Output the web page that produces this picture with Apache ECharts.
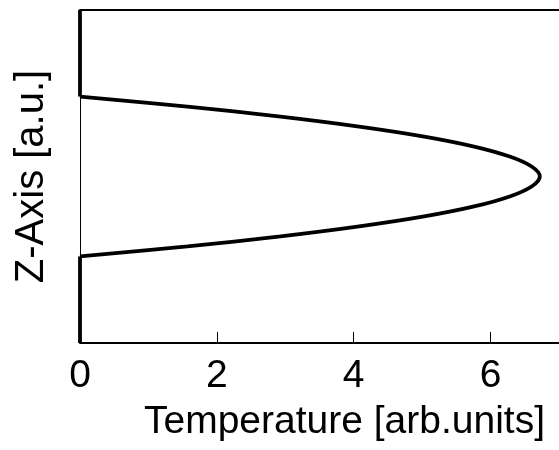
<!DOCTYPE html>
<html>
<head>
<meta charset="utf-8">
<script src="https://cdn.jsdelivr.net/npm/echarts@6/dist/echarts.min.js"></script>
<style>
  html, body { margin: 0; padding: 0; background: #fff; }
  #chart { width: 559px; height: 450px; }
</style>
</head>
<body>
<div id="chart"></div>
<script>
// Temperature profile along the z axis (z normalised to 0..1)
const zProfile = [0.26, 0.29, 0.32, 0.35, 0.38, 0.41, 0.44, 0.47, 0.50, 0.53, 0.56, 0.59, 0.62, 0.65, 0.68, 0.71, 0.74];
const temperature = [0, 1.57, 2.93, 4.08, 5.03, 5.76, 6.28, 6.60, 6.72, 6.60, 6.28, 5.76, 5.03, 4.08, 2.93, 1.57, 0];
// Cold regions below and above the heated zone
const zBelow = [0, 0.26];
const zAbove = [0.74, 1];
const tCold = [0, 0];
const xTicks = { min: 0, max: 7, step: 2 };

const FONT = 'Liberation Sans, Arial, sans-serif';
const pairs = (xs, zs) => xs.map((x, i) => [x, zs[i]]);
const lineStyle = { color: '#000', width: 3.8 };

const chart = echarts.init(document.getElementById('chart'), null, { renderer: 'canvas' });
chart.setOption({
  backgroundColor: '#fff',
  animation: false,
  grid: { left: 80, top: 10, width: 485, height: 333 },
  xAxis: [{
    type: 'value',
    min: xTicks.min,
    max: xTicks.max,
    interval: xTicks.step,
    name: 'Temperature [arb.units]',
    nameLocation: 'middle',
    nameGap: 60,
    nameTextStyle: { color: '#000', fontSize: 39, fontFamily: FONT, padding: [0, 0, 0, 50] },
    axisLine: { show: true, lineStyle: { color: '#000', width: 2 } },
    axisTick: { show: true, inside: true, length: 11, lineStyle: { color: '#000', width: 1 } },
    axisLabel: { color: '#000', fontSize: 39, fontFamily: FONT, margin: 14, showMaxLabel: false },
    splitLine: { show: false }
  }, {
    type: 'value',
    position: 'top',
    min: xTicks.min,
    max: xTicks.max,
    axisLine: { show: true, lineStyle: { color: '#000', width: 2 } },
    axisTick: { show: false },
    axisLabel: { show: false },
    splitLine: { show: false }
  }],
  yAxis: {
    type: 'value',
    min: 0,
    max: 1,
    name: 'Z-Axis [a.u.]',
    nameLocation: 'middle',
    nameGap: 28,
    nameRotate: 90,
    nameTextStyle: { color: '#000', fontSize: 40, fontFamily: FONT },
    axisLine: { show: true, lineStyle: { color: '#000', width: 1 } },
    axisTick: { show: false },
    axisLabel: { show: false },
    splitLine: { show: false }
  },
  series: [
    { type: 'line', data: pairs(tCold, zBelow), showSymbol: false, lineStyle, z: 3 },
    { type: 'line', data: pairs(temperature, zProfile), smooth: 0.35, showSymbol: false, lineStyle, z: 3 },
    { type: 'line', data: pairs(tCold, zAbove), showSymbol: false, lineStyle, z: 3 }
  ]
});
</script>
</body>
</html>
